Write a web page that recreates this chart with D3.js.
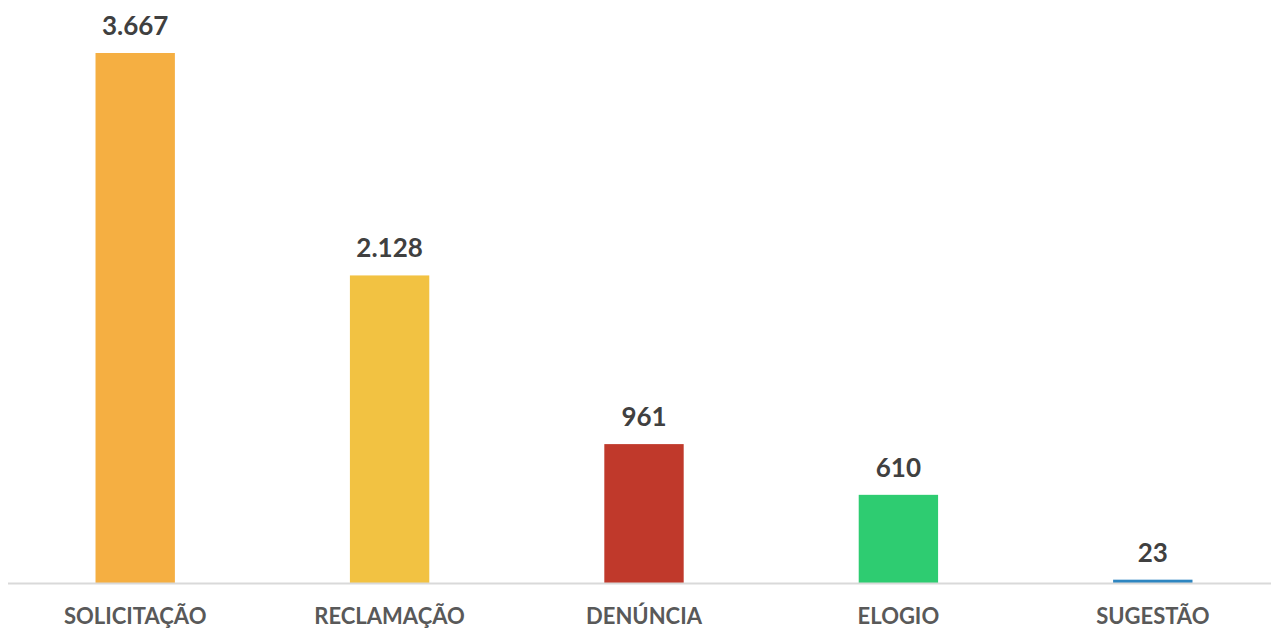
<!DOCTYPE html>
<html>
<head>
<meta charset="utf-8">
<script src="https://cdn.jsdelivr.net/npm/d3@7"></script>
<style>
  body { margin: 0; background: #fff; }
  text { font-family: Lato, "Open Sans", sans-serif; font-weight: bold; }
</style>
</head>
<body>
<script>
// chart data
var categories = ["SOLICITAÇÃO", "RECLAMAÇÃO", "DENÚNCIA", "ELOGIO", "SUGESTÃO"];
var values = [3667, 2128, 961, 610, 23];
var valueLabels = ["3.667", "2.128", "961", "610", "23"];
var colors = ["#F5AF42", "#F2C242", "#C0392B", "#2ECC71", "#2E86C1"];

var w = 1271;
var h = 628;

var svg = d3.select("body")
  .append("svg")
  .attr("width", w)
  .attr("height", h);

var baseY = 583;

var x = d3.scaleBand()
  .domain(categories)
  .range([8, 1280])
  .paddingInner(0.688)
  .paddingOuter(0.344);

var y = d3.scaleLinear()
  .domain([0, 3667])
  .range([baseY, 53]);

// bars
svg.selectAll("rect.bar")
  .data(values)
  .enter()
  .append("rect")
  .attr("class", "bar")
  .attr("x", function(d, i) { return x(categories[i]); })
  .attr("y", function(d) { return y(d); })
  .attr("width", x.bandwidth())
  .attr("height", function(d) { return baseY - y(d); })
  .style("fill", function(d, i) { return colors[i]; });

// axis line
svg.append("line")
  .attr("x1", 8)
  .attr("x2", w)
  .attr("y1", baseY + 0.5)
  .attr("y2", baseY + 0.5)
  .style("stroke", "#d9d9d9")
  .style("stroke-width", 2);

// value labels
svg.selectAll("text.val")
  .data(values)
  .enter()
  .append("text")
  .attr("class", "val")
  .attr("x", function(d, i) { return x(categories[i]) + x.bandwidth() / 2; })
  .attr("y", function(d) { return y(d) - 18; })
  .attr("text-anchor", "middle")
  .style("font-size", "26px")
  .style("fill", "#404040")
  .text(function(d, i) { return valueLabels[i]; });

// category labels
svg.selectAll("text.cat")
  .data(categories)
  .enter()
  .append("text")
  .attr("class", "cat")
  .attr("x", function(d) { return x(d) + x.bandwidth() / 2; })
  .attr("y", 624)
  .attr("text-anchor", "middle")
  .style("font-size", "22px")
  .style("fill", "#595959")
  .text(function(d) { return d; });
</script>
</body>
</html>
